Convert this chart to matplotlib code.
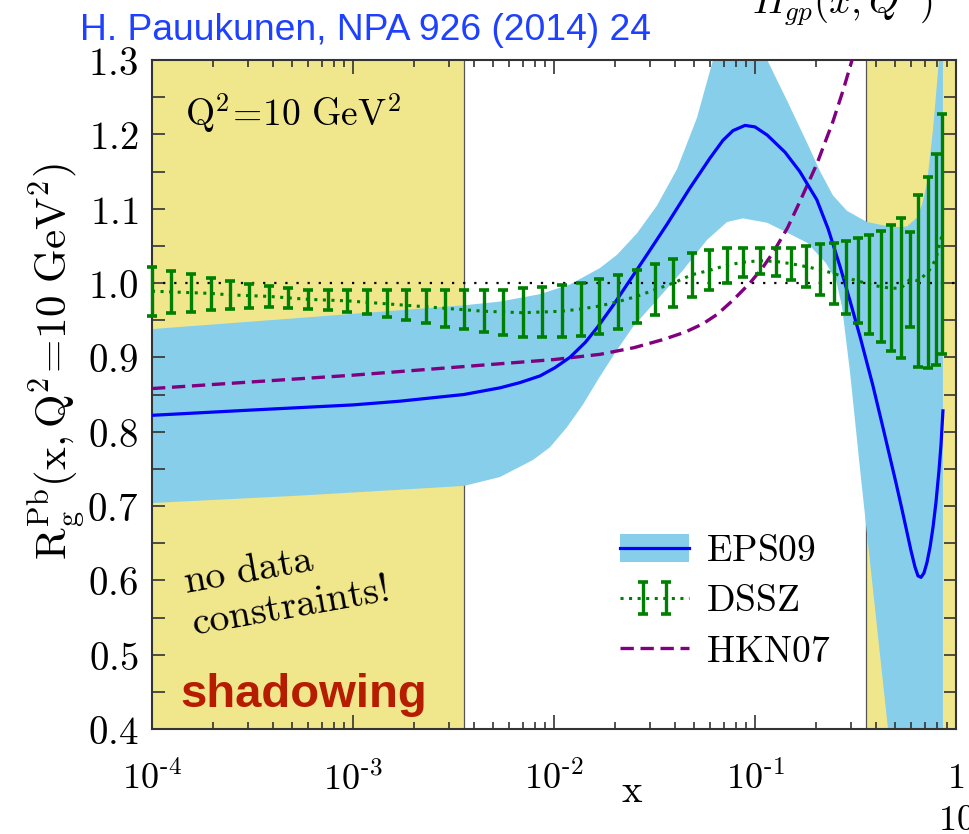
import numpy as np
import matplotlib
matplotlib.use('Agg')
import matplotlib.pyplot as plt
from matplotlib.patches import Patch
from matplotlib.legend_handler import HandlerErrorbar, HandlerTuple
from matplotlib.container import ErrorbarContainer
from matplotlib.ticker import MultipleLocator, LogLocator, NullFormatter, FuncFormatter

plt.rcParams['mathtext.fontset'] = 'cm'

# EPS09 central value and error band (gluon nuclear modification, Pb, Q^2 = 10 GeV^2)
eps_x = [1e-4, 3.08e-4, 1e-3, 1.71e-3, 3.56e-3, 5.39e-3, 6.77e-3, 8.52e-3, 1.01e-2,
         1.20e-2, 1.43e-2, 1.64e-2, 1.97e-2, 2.39e-2, 2.90e-2, 3.65e-2, 4.75e-2,
         5.97e-2, 6.93e-2, 7.77e-2, 8.92e-2, 0.100, 0.115, 0.141, 0.167, 0.203,
         0.231, 0.265, 0.297, 0.333, 0.386, 0.438, 0.503, 0.539, 0.570, 0.597,
         0.625, 0.647, 0.670, 0.693, 0.717, 0.743, 0.769, 0.795, 0.823, 0.842, 0.861]
eps_c = [0.822, 0.829, 0.836, 0.841, 0.850, 0.859, 0.866, 0.875, 0.886,
         0.900, 0.920, 0.940, 0.970, 1.004, 1.038, 1.079, 1.128,
         1.168, 1.192, 1.205, 1.212, 1.210, 1.199, 1.176, 1.150, 1.112,
         1.073, 1.022, 0.976, 0.928, 0.862, 0.800, 0.731, 0.695, 0.665, 0.640,
         0.618, 0.606, 0.604, 0.610, 0.624, 0.645, 0.672, 0.705, 0.748, 0.782, 0.828]

eps_up_x = [1e-4, 5.45e-4, 3.56e-3, 5.39e-3, 8.52e-3, 1.20e-2, 1.69e-2, 2.06e-2,
            2.59e-2, 3.25e-2, 4.09e-2, 5.14e-2, 6.18e-2, 7.10e-2, 8.91e-2, 0.115,
            0.144, 0.182, 0.211, 0.244, 0.287, 0.361, 0.486, 0.570, 0.640, 0.677,
            0.718, 0.769, 0.823, 0.861]
eps_up = [0.938, 0.953, 0.970, 0.975, 0.985, 0.998, 1.020, 1.038,
          1.067, 1.104, 1.153, 1.222, 1.300, 1.350, 1.360, 1.300,
          1.246, 1.188, 1.150, 1.118, 1.097, 1.082, 1.075, 1.076, 1.088, 1.105,
          1.135, 1.207, 1.300, 1.360]

eps_lo_x = [1e-4, 5.45e-4, 3.56e-3, 5.39e-3, 7.87e-3, 9.55e-3, 1.16e-2, 1.39e-2,
            1.69e-2, 2.06e-2, 2.47e-2, 3.25e-2, 4.38e-2, 5.77e-2, 7.26e-2, 8.71e-2,
            0.115, 0.144, 0.182, 0.225, 0.253, 0.271, 0.297, 0.333, 0.382, 0.459, 0.861]
eps_lo = [0.704, 0.714, 0.727, 0.739, 0.762, 0.779, 0.806, 0.836,
          0.874, 0.910, 0.941, 0.977, 1.017, 1.058, 1.082, 1.087,
          1.081, 1.068, 1.054, 1.027, 1.004, 0.968, 0.880, 0.750, 0.600, 0.400, -0.200]

# DSSZ central value with its error bars
dssz_x = [1.00e-4, 1.25e-4, 1.56e-4, 1.96e-4, 2.44e-4, 3.05e-4, 3.82e-4, 4.76e-4,
          6.00e-4, 7.48e-4, 9.38e-4, 1.17e-3, 1.47e-3, 1.84e-3, 2.30e-3, 2.87e-3,
          3.58e-3, 4.49e-3, 5.60e-3, 6.98e-3, 8.75e-3, 1.09e-2, 1.36e-2, 1.68e-2,
          2.09e-2, 2.58e-2, 3.18e-2, 3.93e-2, 4.84e-2, 5.93e-2, 7.26e-2, 8.75e-2,
          0.106, 0.127, 0.151, 0.180, 0.210, 0.246, 0.283, 0.324, 0.371, 0.422,
          0.475, 0.532, 0.590, 0.650, 0.728, 0.794, 0.855]
dssz_mid = [0.989, 0.988, 0.987, 0.986, 0.984, 0.983, 0.982, 0.980,
            0.978, 0.977, 0.976, 0.974, 0.972, 0.970, 0.968, 0.966,
            0.964, 0.962, 0.961, 0.960, 0.961, 0.962, 0.965, 0.969,
            0.975, 0.982, 0.991, 1.000, 1.011, 1.017, 1.024, 1.028,
            1.030, 1.029, 1.026, 1.022, 1.018, 1.013, 1.007, 1.003, 0.998, 0.995,
            0.993, 0.993, 1.005, 1.003, 1.015, 1.032, 1.066]
dssz_hi = [1.022, 1.016, 1.012, 1.007, 1.003, 0.999, 0.996, 0.993,
           0.990, 0.990, 0.990, 0.990, 0.990, 0.990, 0.990, 0.990,
           0.990, 0.990, 0.991, 0.993, 0.994, 0.997, 1.000, 1.005,
           1.011, 1.018, 1.025, 1.032, 1.040, 1.044, 1.047, 1.047,
           1.047, 1.047, 1.047, 1.050, 1.052, 1.054, 1.056, 1.060, 1.064, 1.070,
           1.078, 1.087, 1.068, 1.118, 1.143, 1.174, 1.227]
dssz_lo = [0.955, 0.959, 0.961, 0.964, 0.965, 0.967, 0.968, 0.967,
           0.965, 0.964, 0.961, 0.958, 0.954, 0.950, 0.946, 0.941,
           0.938, 0.934, 0.930, 0.927, 0.927, 0.927, 0.929, 0.932,
           0.938, 0.946, 0.957, 0.968, 0.981, 0.990, 1.000, 1.008,
           1.012, 1.010, 1.004, 0.994, 0.984, 0.972, 0.958, 0.946, 0.931, 0.920,
           0.908, 0.899, 0.941, 0.887, 0.886, 0.890, 0.904]

# HKN07
hkn_x = [1e-4, 1e-3, 1e-2, 1.69e-2, 2.5e-2, 3.5e-2, 4.5e-2, 5.5e-2, 6.5e-2,
         7.78e-2, 9.44e-2, 0.110, 0.123, 0.145, 0.1675, 0.203, 0.244, 0.275, 0.304, 0.352]
hkn = [0.858, 0.876, 0.897, 0.904, 0.913, 0.924, 0.934, 0.945, 0.958,
       0.977, 1.000, 1.022, 1.041, 1.074, 1.110, 1.160, 1.217, 1.260, 1.300, 1.370]

# x-ranges without data constraints (shaded)
shadow_edge = 3.56e-3
valence_edge = 0.356

xtick_pos = [1e-4, 1e-3, 1e-2, 1e-1, 1]
xtick_lbl = [r'$\mathrm{10^{\text{-}4}}$', r'$\mathrm{10^{\text{-}3}}$',
             r'$\mathrm{10^{\text{-}2}}$', r'$\mathrm{10^{\text{-}1}}$', r'$\mathrm{1}$']

khaki = '#f0e68c'
skyblue = '#87ceeb'
green = '#008000'
purple = '#800080'

fig = plt.figure(figsize=(9.7, 8.34), dpi=100)
ax = fig.add_axes([152 / 970, 1 - 729 / 834, 804 / 970, 669 / 834])
ax.set_xscale('log')

ax.axvspan(1e-4, shadow_edge, color=khaki, lw=0, zorder=0)
ax.axvspan(valence_edge, 1, color=khaki, lw=0, zorder=0)
ax.axvline(shadow_edge, color='#555555', lw=0.9, zorder=0.5)
ax.axvline(valence_edge, color='#555555', lw=0.9, zorder=0.5)

band_x = np.r_[eps_up_x, eps_lo_x[::-1]]
band_y = np.r_[eps_up, eps_lo[::-1]]
ax.fill(band_x, band_y, color=skyblue, lw=0, zorder=1)

ax.axhline(1.0, color='k', lw=1.6, ls=(0, (1, 4)), zorder=2)
hkn_line, = ax.plot(hkn_x, hkn, color=purple, lw=2.4, ls=(0, (4.0, 2.0)), zorder=3)
eps_line, = ax.plot(eps_x, eps_c, color='blue', lw=2.3, zorder=4)

yerr = [np.subtract(dssz_mid, dssz_lo), np.subtract(dssz_hi, dssz_mid)]
dssz_line, = ax.plot(dssz_x, dssz_mid, color=green, lw=2.2, ls=(0, (1, 1.8)), zorder=5)
dssz_err = ax.errorbar(dssz_x, dssz_mid, yerr=yerr, fmt='none', ecolor=green,
                       elinewidth=2.4, capsize=3.4, capthick=2.6, zorder=6, clip_on=False)

ax.set_xlim(1e-4, 1)
ax.set_ylim(0.4, 1.3)

ax.set_xticks(xtick_pos, labels=xtick_lbl)
ax.xaxis.set_minor_locator(LogLocator(base=10, subs=np.arange(2, 10)))
ax.xaxis.set_minor_formatter(NullFormatter())
ax.yaxis.set_major_locator(MultipleLocator(0.1))
ax.yaxis.set_minor_locator(MultipleLocator(0.05))
ax.yaxis.set_major_formatter(FuncFormatter(lambda v, p: r'$\mathrm{%.1f}$' % v))

ax.tick_params(which='both', direction='in', top=True, right=True, width=1.2,
               color='#333333', labelcolor='k')
ax.tick_params(axis='x', which='major', length=10, pad=23, labelsize=26)
ax.tick_params(axis='x', which='minor', length=5)
ax.tick_params(axis='y', which='both', length=9, pad=10, labelsize=28)
for sp in ax.spines.values():
    sp.set_linewidth(1.5)
    sp.set_color('#333333')

fig.text(57 / 970, 1 - 362 / 834, r'$\mathrm{R_g^{Pb}(x,Q^2\!=\!10\ GeV^2)}$',
         rotation=90, ha='center', va='center', fontsize=31)
fig.text(632 / 970, 1 - 802 / 834, r'$\mathrm{x}$', ha='center', va='baseline', fontsize=28)

ax.text(0.041, 0.90, r'$\mathrm{Q^2\!=\!10\ GeV^2}$', transform=ax.transAxes,
        ha='left', va='baseline', fontsize=27)
ax.text(0.0535, 0.127, r'$\mathrm{no\ data}$' + '\n' + r'$\mathrm{constraints!}$',
        transform=ax.transAxes, ha='left', va='bottom', fontsize=28.5, rotation=10,
        rotation_mode='anchor', linespacing=1.1)
ax.text(0.035, 0.033, 'shadowing', transform=ax.transAxes, ha='left', va='baseline',
        fontsize=34, fontweight='bold', family='Liberation Sans', color='#b51c00')

fig.text(80 / 970, 1 - 40 / 834, 'H. Pauukunen, NPA 926 (2014) 24', ha='left',
         va='baseline', fontsize=26.8, family='Liberation Sans', color='#1e40ff')
fig.text(752 / 970, 1 - 14 / 834, r'$H_{gp}(x,Q^2)$', ha='left', va='baseline', fontsize=28)
fig.text(938 / 970, 1 - 830 / 834, r'$\mathrm{10}$', ha='left', va='baseline', fontsize=26)

h_eps = (Patch(facecolor=skyblue, edgecolor='none'), eps_line)
h_dssz = (dssz_line, dssz_err)
leg = ax.legend([h_eps, h_dssz, hkn_line],
                [r'$\mathrm{EPS09}$', r'$\mathrm{DSSZ}$', r'$\mathrm{HKN07}$'],
                handler_map={tuple: HandlerTuple(ndivide=1),
                             ErrorbarContainer: HandlerErrorbar(numpoints=2, marker_pad=0.62,
                                                                xerr_size=0.2, yerr_size=0.42)},
                loc='upper left', bbox_to_anchor=(620 / 970, 1 - 533 / 834),
                bbox_transform=fig.transFigure, frameon=False, fontsize=27,
                handlelength=1.85, handleheight=0.75, handletextpad=0.45,
                labelspacing=0.38, borderpad=0, borderaxespad=0)

fig.savefig('out.png', dpi=100)
